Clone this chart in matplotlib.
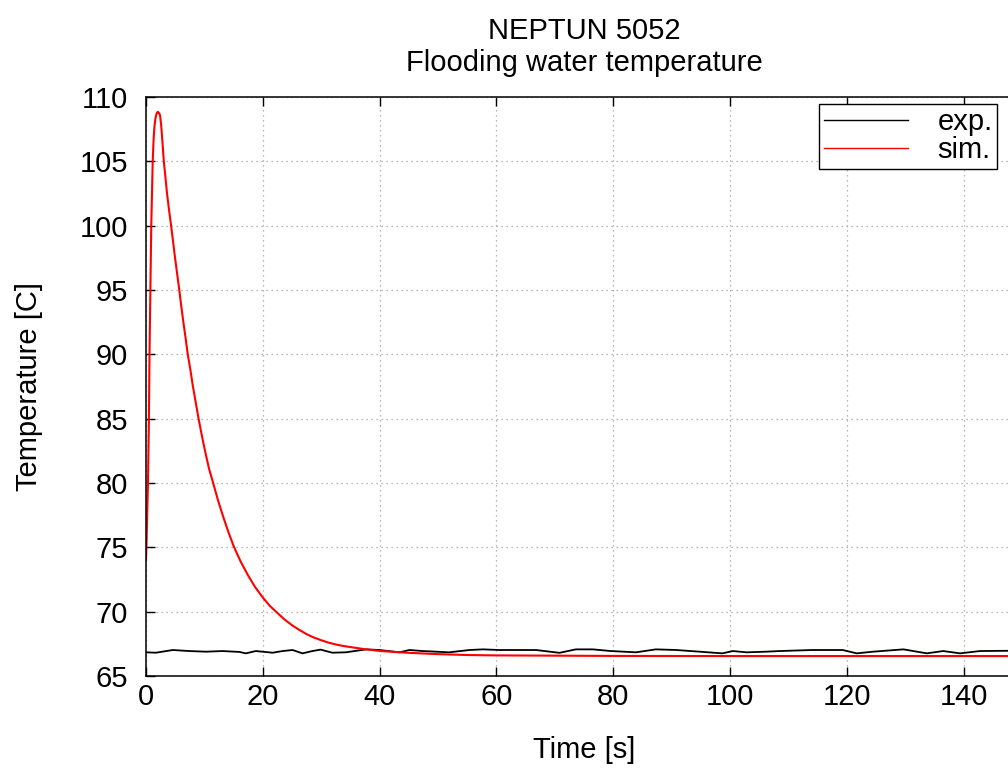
import matplotlib
matplotlib.use("Agg")
import matplotlib.pyplot as plt

# values
sim_t = [0.0, 0.1, 0.2, 0.34, 0.5, 0.6, 0.75, 0.9, 1.15, 1.3, 1.45, 1.6, 1.8, 2.0, 2.15,
         2.4, 2.6, 2.8, 3.05, 3.3, 3.6, 3.95, 4.3, 4.65, 5.0, 5.35, 5.7, 6.05, 6.4, 6.8,
         7.15, 7.6, 8.0, 8.5, 9.0, 9.6, 10.2, 10.8, 11.5, 12.3, 13.2, 14.1, 15.0, 16.2,
         17.5, 18.7, 20.0, 21.2, 22.5, 23.7, 25.0, 26.2, 27.5, 28.7, 30.0, 31.2, 32.5,
         33.7, 35.0, 37.5, 40.0, 42.5, 45.0, 47.5, 50.0, 55.0, 60.0, 70.0, 80.0, 100.0,
         120.0, 150.0]
sim_T = [74.0, 75.5, 77.5, 80.0, 85.0, 90.0, 95.0, 100.0, 105.0, 106.7, 107.7, 108.3,
         108.7, 108.85, 108.8, 108.6, 107.8, 106.6, 105.0, 103.9, 102.5, 101.2, 100.0,
         98.7, 97.4, 96.2, 95.0, 93.7, 92.5, 91.2, 90.0, 88.8, 87.6, 86.3, 85.0, 83.6,
         82.3, 81.1, 80.0, 78.7, 77.4, 76.2, 75.1, 73.9, 72.8, 71.9, 71.1, 70.45, 69.9,
         69.4, 68.95, 68.6, 68.25, 68.0, 67.78, 67.6, 67.45, 67.34, 67.25, 67.08, 66.95,
         66.87, 66.8, 66.75, 66.7, 66.63, 66.6, 66.58, 66.56, 66.55, 66.55, 66.55]

exp_t = [0.0, 1.7, 4.6, 7.4, 10.3, 13.1, 16.0, 17.1, 18.8, 21.7, 23.4, 25.1, 26.8, 28.5,
         29.9, 31.9, 34.2, 37.7, 40.0, 43.4, 45.1, 47.4, 51.9, 55.4, 57.7, 60.5, 63.4,
         66.8, 70.8, 73.6, 76.5, 79.6, 83.9, 87.3, 90.8, 94.8, 98.7, 100.5, 102.8, 106.2,
         108.5, 114.1, 119.3, 121.7, 124.5, 129.7, 133.7, 136.5, 139.4, 142.8, 150.0]
exp_T = [66.84, 66.81, 67.02, 66.94, 66.89, 66.94, 66.87, 66.76, 66.94, 66.81, 66.94,
         67.02, 66.76, 66.94, 67.05, 66.81, 66.84, 67.07, 67.02, 66.84, 67.02, 66.94,
         66.84, 67.02, 67.07, 67.02, 67.02, 67.02, 66.80, 67.07, 67.07, 66.94, 66.84,
         67.07, 67.02, 66.89, 66.76, 66.94, 66.84, 66.89, 66.94, 67.02, 67.02, 66.76,
         66.89, 67.07, 66.76, 66.94, 66.76, 66.94, 66.97]

x_ticks = [0, 20, 40, 60, 80, 100, 120, 140]
y_ticks = [65, 70, 75, 80, 85, 90, 95, 100, 105, 110]

FS = 21
plt.rcParams.update({
    "font.family": ["Liberation Sans", "DejaVu Sans"],
    "font.size": FS,
})

fig = plt.figure(figsize=(10.08, 7.73), dpi=100)
# axes run past the right edge of the picture, as in the reference
ax = fig.add_axes([146 / 1008, 97 / 773, 876 / 1008, 579 / 773])

ax.plot(exp_t, exp_T, color="black", lw=1.3, label="exp.")
ax.plot(sim_t, sim_T, color="#ff0000", lw=1.5, label="sim.")

ax.set_xlim(0, 150); ax.set_ylim(65, 110)
ax.set_xticks(x_ticks); ax.set_yticks(y_ticks)
ax.tick_params(direction="in", length=6.5, width=1, top=True, right=True)
ax.tick_params(axis="y", pad=13)
ax.tick_params(axis="x", pad=5)
for s in ax.spines.values():
    s.set_linewidth(1.1)
ax.grid(True, ls=(0, (1, 3)), color="#a0a0a0", lw=0.9)

ax.set_xlabel("Time [s]", labelpad=18)
ax.set_ylabel("Temperature [C]", labelpad=26)
ax.set_title("NEPTUN 5052\nFlooding water temperature", fontsize=FS,
             linespacing=1.15, pad=19)

leg = ax.legend(loc="upper right", bbox_to_anchor=(851 / 876, 572 / 579),
                borderaxespad=0, fancybox=False, edgecolor="black",
                framealpha=1, handlelength=2.9, handletextpad=1.0,
                labelspacing=0.0, borderpad=0.15, fontsize=FS)
leg.get_frame().set_linewidth(1.0)
for h in leg.get_lines():
    h.set_linewidth(1.0)

fig.savefig("out.png", dpi=100)
